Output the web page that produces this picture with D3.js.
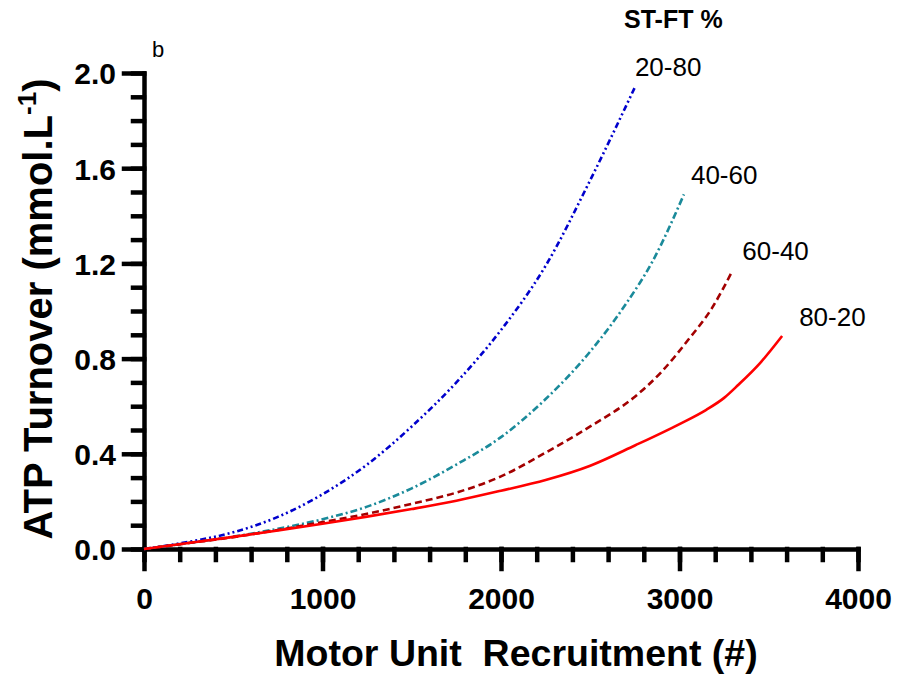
<!DOCTYPE html>
<html>
<head>
<meta charset="utf-8">
<script src="https://cdn.jsdelivr.net/npm/d3@7"></script>
<style>
  body { margin: 0; background: #fff; }
  svg { font-family: Arial, "Liberation Sans", sans-serif; }
  .axis path, .axis line { stroke: #000; stroke-width: 4.5px; stroke-linecap: square; }
  .axis text { font-size: 30px; font-weight: bold; fill: #000; }
</style>
</head>
<body>
<svg id="chart"></svg>
<script>
// Data: ATP turnover vs motor unit recruitment
const seriesNames = ["20-80", "40-60", "60-40", "80-20"];

const x2080 = [0, 250, 500, 750, 1000, 1250, 1500, 1750, 2000, 2250, 2500, 2750];
const y2080 = [0, 0.03, 0.07, 0.135, 0.23, 0.355, 0.515, 0.7, 0.92, 1.19, 1.55, 1.94];

const x4060 = [0, 250, 500, 750, 1000, 1250, 1500, 1750, 2000, 2250, 2500, 2700, 2850, 3025];
const y4060 = [0, 0.025, 0.052, 0.085, 0.125, 0.178, 0.255, 0.355, 0.47, 0.63, 0.83, 1.03, 1.21, 1.49];

const x6040 = [0, 250, 500, 750, 1000, 1250, 1500, 1750, 2000, 2250, 2500, 2750, 2900, 3050, 3180, 3296];
const y6040 = [0, 0.025, 0.05, 0.08, 0.113, 0.148, 0.19, 0.237, 0.305, 0.405, 0.515, 0.64, 0.745, 0.88, 1.01, 1.168];

const x8020 = [0, 250, 500, 750, 1000, 1250, 1500, 1750, 2000, 2250, 2500, 2750, 3000, 3150, 3250, 3330, 3450, 3575];
const y8020 = [0, 0.025, 0.051, 0.078, 0.106, 0.136, 0.168, 0.203, 0.245, 0.29, 0.35, 0.435, 0.525, 0.585, 0.635, 0.69, 0.78, 0.895];

const xTicks = [0, 1000, 2000, 3000, 4000];
const yTicks = [0.0, 0.4, 0.8, 1.2, 1.6, 2.0];

// Styles per series
const styles = [
  { color: "#0000cc", dash: "6,3,2,3,2,3", dx: 0, dy: -11 },
  { color: "#1a8a9a", dash: "7,3,2,3", dx: 7, dy: -10 },
  { color: "#a30000", dash: "7,4", dx: 10, dy: -11 },
  { color: "#ff0000", dash: null, dx: 17, dy: -10 }
];

const series = [
  d3.zip(x2080, y2080),
  d3.zip(x4060, y4060),
  d3.zip(x6040, y6040),
  d3.zip(x8020, y8020)
];

const width = 901, height = 676;
const svg = d3.select("#chart").attr("width", width).attr("height", height);

const x = d3.scaleLinear().domain([0, 4000]).range([144, 858]);
const y = d3.scaleLinear().domain([0, 2]).range([549, 73]);

// minor ticks first so the major ticks sit on top
svg.append("g")
  .attr("class", "axis")
  .attr("transform", "translate(0,549)")
  .call(d3.axisBottom(x).tickValues(d3.range(0, 4001, 200)).tickSize(11).tickFormat(""))
  .call(g => g.select(".domain").remove());

svg.append("g")
  .attr("class", "axis")
  .attr("transform", "translate(144,0)")
  .call(d3.axisLeft(y).tickValues(d3.range(0, 2.001, 0.1)).tickSize(11).tickFormat(""))
  .call(g => g.select(".domain").remove());

svg.append("g")
  .attr("class", "axis")
  .attr("transform", "translate(0,549)")
  .call(d3.axisBottom(x).tickValues(xTicks).tickSize(20).tickSizeOuter(0).tickPadding(19).tickFormat(d3.format("d")));

svg.append("g")
  .attr("class", "axis")
  .attr("transform", "translate(144,0)")
  .call(d3.axisLeft(y).tickValues(yTicks).tickSize(20).tickSizeOuter(0).tickPadding(8).tickFormat(d3.format(".1f")))
  .call(g => g.selectAll(".tick text").attr("dy", "0.36em"));

// lines
const line = d3.line()
  .x(d => x(d[0]))
  .y(d => y(d[1]))
  .curve(d3.curveMonotoneX);

svg.append("g")
  .selectAll("path")
  .data(series)
  .join("path")
  .attr("d", line)
  .attr("fill", "none")
  .attr("stroke", (d, i) => styles[i].color)
  .attr("stroke-width", 2.6)
  .attr("stroke-dasharray", (d, i) => styles[i].dash);

// series labels at line ends
svg.append("g")
  .selectAll("text")
  .data(series)
  .join("text")
  .attr("x", (d, i) => x(d[d.length - 1][0]) + styles[i].dx)
  .attr("y", (d, i) => y(d[d.length - 1][1]) + styles[i].dy)
  .attr("font-size", 26)
  .attr("fill", "#000")
  .text((d, i) => seriesNames[i]);

svg.append("text")
  .attr("x", 624)
  .attr("y", 28)
  .attr("font-size", 25)
  .attr("font-weight", "bold")
  .text("ST-FT %");

svg.append("text")
  .attr("x", 152)
  .attr("y", 57)
  .attr("font-size", 22)
  .text("b");

// axis titles
svg.append("text")
  .attr("x", 516)
  .attr("y", 666)
  .attr("text-anchor", "middle")
  .attr("font-size", 37.5)
  .attr("font-weight", "bold")
  .style("white-space", "pre")
  .text("Motor Unit  Recruitment (#)");

const yTitle = svg.append("text")
  .attr("transform", "translate(52,309) rotate(-90)")
  .attr("text-anchor", "middle")
  .attr("font-size", 40)
  .attr("font-weight", "bold");
yTitle.append("tspan").text("ATP Turnover (mmol.L");
yTitle.append("tspan").attr("font-size", 26).attr("dy", -16).text("-1");
yTitle.append("tspan").attr("dy", 16).text(")");
</script>
</body>
</html>
